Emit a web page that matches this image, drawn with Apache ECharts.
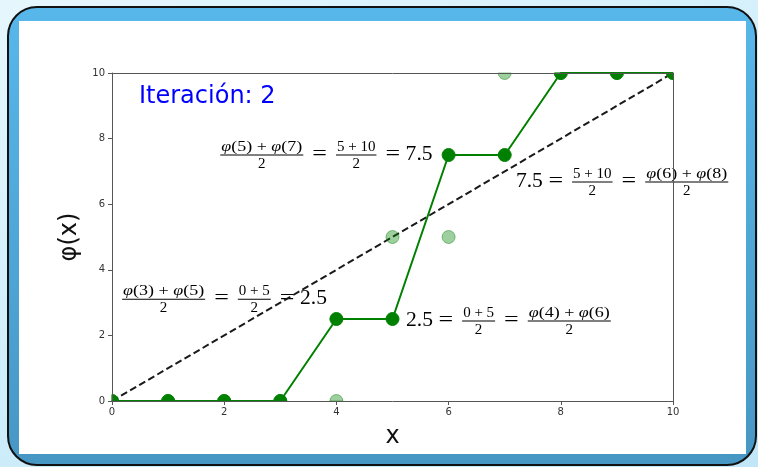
<!DOCTYPE html>
<html>
<head>
<meta charset="utf-8">
<script src="https://cdn.jsdelivr.net/npm/echarts@6/dist/echarts.min.js"></script>
<style>
  html, body { margin: 0; padding: 0; width: 758px; height: 467px; overflow: hidden;
    background: linear-gradient(160deg, #e6f7fd 0%, #d2effb 45%, #c0e6f7 100%); }
  #frame { position: absolute; left: 7px; top: 6px; width: 746px; height: 456px;
    border: 2px solid #111; border-radius: 30px;
    background: linear-gradient(#58b7ea, #4797c4); }
  #paper { position: absolute; left: 19px; top: 21px; width: 727px; height: 433px; background: #fff; }
  #chart { position: absolute; left: 0; top: 0; width: 758px; height: 467px; }
</style>
</head>
<body>
<div id="frame"></div>
<div id="paper"></div>
<div id="chart"></div>
<script>
// Grid nodes and the values of phi before and after this smoothing step
const xs = [0, 1, 2, 3, 4, 5, 6, 7, 8, 9, 10];
const phiPrev = [0, 0, 0, 0, 0, 5, 5, 10, 10, 10, 10];
const phiNext = [0, 0, 0, 0, 2.5, 2.5, 7.5, 7.5, 10, 10, 10];
// Reference line phi(x) = x
const diagonal = [[0, 0], [10, 10]];
const iteration = 2;
// Axis range shared by both axes
const AXIS_MIN = 0, AXIS_MAX = 10, AXIS_STEP = 2;
// Nodes whose update rule is written out on the plot
const leftFormNodes = [6, 4];
const rightFormNodes = [5, 7];

const GREEN = '#008000';
const SERIF = '"Liberation Serif", "Times New Roman", serif';
const MAIN_SIZE = 20, FRAC_SIZE = 15;
// horizontal stretch to give the serif glyphs a roomier, TeX-like set width
const MAIN_SX = 1.08, EQ_SX = 1.3, SYM_SX = 1.2;
const MARKER_R = 6.5;

// Markers are cut by the plot frame: a node lying on an edge only shows
// the part of its disc that is inside the axes.
function markerSeries(values, fill, stroke, z) {
  return {
    type: 'custom',
    z: z,
    data: xs.map((x, i) => [x, values[i]]),
    encode: { x: 0, y: 1 },
    renderItem: (params, api) => {
      const vx = api.value(0), vy = api.value(1);
      const p = api.coord([vx, vy]);
      let nx = 0, ny = 0, edges = 0;
      if (vy <= AXIS_MIN) { ny -= 1; edges++; }   // bottom edge: keep upper part
      if (vy >= AXIS_MAX) { ny += 1; edges++; }   // top edge: keep lower part
      if (vx <= AXIS_MIN) { nx += 1; edges++; }   // left edge: keep right part
      if (vx >= AXIS_MAX) { nx -= 1; edges++; }   // right edge: keep left part
      const style = { fill: fill, stroke: stroke, lineWidth: 1 };
      if (!edges) {
        return { type: 'circle', shape: { cx: p[0], cy: p[1], r: MARKER_R }, style: style };
      }
      const mid = Math.atan2(ny, nx);
      const half = edges === 1 ? Math.PI / 2 : Math.PI / 4;
      return { type: 'sector', style: style,
        shape: { cx: p[0], cy: p[1], r0: 0, r: MARKER_R,
                 startAngle: mid - half, endAngle: mid + half, clockwise: true } };
    }
  };
}

const frameAxis = { type: 'value', min: AXIS_MIN, max: AXIS_MAX, z: 6,
  axisLine: { show: true, onZero: false, lineStyle: { color: '#555', width: 1 } },
  axisTick: { show: false }, axisLabel: { show: false }, splitLine: { show: false } };

const option = {
  animation: false,
  backgroundColor: 'transparent',
  grid: { left: 112, right: 85, top: 73, bottom: 66 },
  title: { text: 'Iteración: ' + iteration, left: 139, top: 85, padding: 0,
    textStyle: { color: '#0000ff', fontSize: 24, fontWeight: 'normal', fontFamily: 'DejaVu Sans' } },
  xAxis: [{
    type: 'value', min: AXIS_MIN, max: AXIS_MAX, interval: AXIS_STEP, position: 'bottom', z: 6,
    axisLine: { show: true, onZero: false, lineStyle: { color: '#555', width: 1 } },
    axisTick: { show: true, length: 4, lineStyle: { color: '#555' } },
    axisLabel: { color: '#333', fontSize: 10, margin: 6, fontFamily: 'DejaVu Sans' },
    splitLine: { show: false },
    name: 'x', nameLocation: 'middle', nameGap: 24,
    nameTextStyle: { fontSize: 24, color: '#111', fontFamily: 'DejaVu Sans' }
  }, Object.assign({ position: 'top' }, frameAxis)],
  yAxis: [{
    type: 'value', min: AXIS_MIN, max: AXIS_MAX, interval: AXIS_STEP, position: 'left', z: 6,
    axisLine: { show: true, onZero: false, lineStyle: { color: '#555', width: 1 } },
    axisTick: { show: true, length: 4, lineStyle: { color: '#555' } },
    axisLabel: { color: '#333', fontSize: 10, margin: 7, fontFamily: 'DejaVu Sans' },
    splitLine: { show: false },
    name: 'φ(x)', nameLocation: 'middle', nameGap: 25, nameRotate: 90,
    nameTextStyle: { fontSize: 24, color: '#111', fontFamily: 'DejaVu Sans' }
  }, Object.assign({ position: 'right' }, frameAxis)],
  series: [
    { type: 'line', data: diagonal, symbol: 'none', z: 3,
      lineStyle: { color: '#1a1a1a', width: 2, type: [7, 3.5] } },
    { type: 'line', data: xs.map((x, i) => [x, phiNext[i]]), symbol: 'none', z: 3,
      lineStyle: { color: GREEN, width: 2 } },
    markerSeries(phiPrev, 'rgba(0,128,0,0.38)', 'rgba(0,128,0,0.45)', 4),
    markerSeries(phiNext, GREEN, GREEN, 5)
  ]
};

const chart = echarts.init(document.getElementById('chart'));
chart.setOption(option);

// ---- written-out update rules, typeset as inline fractions ----
const ctx = document.createElement('canvas').getContext('2d');
function fontOf(size, italic) { return (italic ? 'italic ' : '') + size + 'px ' + SERIF; }
function runsOf(str) {
  const runs = [];
  str.split(/(φ)/).forEach(s => { if (s) runs.push({ t: s, it: s === 'φ' }); });
  return runs;
}
function runWidth(runs, size, sx) {
  return runs.reduce((w, r) => { ctx.font = fontOf(size, r.it); return w + ctx.measureText(r.t).width * sx; }, 0);
}
function putRuns(runs, size, sx, x, y, out) {
  runs.forEach(r => {
    ctx.font = fontOf(size, r.it);
    out.push({ type: 'text', x: x, y: y, scaleX: sx, z: 1, silent: true,
      style: { text: r.t, font: fontOf(size, r.it), fill: '#000', align: 'left', verticalAlign: 'middle' } });
    x += ctx.measureText(r.t).width * sx;
  });
}
function typeset(parts, x, y, out) {
  const PAD = 1;
  parts.forEach((part, i) => {
    if (i > 0) {
      const nearFraction = typeof part !== 'string' || typeof parts[i - 1] !== 'string';
      x += nearFraction ? 9 : 5.5;
    }
    if (typeof part === 'string') {
      const runs = runsOf(part);
      const sx = part === '=' ? EQ_SX : MAIN_SX;
      putRuns(runs, MAIN_SIZE, sx, x, y - 0.5, out);
      x += runWidth(runs, MAIN_SIZE, sx);
    } else {
      const num = runsOf(part[0]), den = runsOf(part[1]);
      const nsx = part[0].indexOf('φ') >= 0 ? SYM_SX : 1;
      const nw = runWidth(num, FRAC_SIZE, nsx), dw = runWidth(den, FRAC_SIZE, 1);
      const w = Math.max(nw, dw) + 2 * PAD;
      out.push({ type: 'rect', z: 1, silent: true,
        shape: { x: x, y: y - 0.5, width: w, height: 1 }, style: { fill: '#000' } });
      putRuns(num, FRAC_SIZE, nsx, x + (w - nw) / 2, y - 8, out);
      putRuns(den, FRAC_SIZE, 1, x + (w - dw) / 2, y + 9, out);
      x += w;
    }
  });
}

function ruleParts(k, valueFirst) {
  const symbolic = ['φ(' + (k - 1) + ') + φ(' + (k + 1) + ')', '2'];
  const numeric = [phiPrev[k - 1] + ' + ' + phiPrev[k + 1], '2'];
  const value = String(phiNext[k]);
  return valueFirst ? [value, '=', numeric, '=', symbolic] : [symbolic, '=', numeric, '=', value];
}

// where each rule starts (data coordinates of its left edge, fraction-bar height)
const ruleAnchor = { 6: [1.93, 7.5], 4: [0.18, 3.1], 5: [5.24, 2.44], 7: [7.2, 6.68] };

const elements = [];
leftFormNodes.forEach(k => {
  const p = chart.convertToPixel({ xAxisIndex: 0, yAxisIndex: 0 }, ruleAnchor[k]);
  typeset(ruleParts(k, false), p[0], p[1], elements);
});
rightFormNodes.forEach(k => {
  const p = chart.convertToPixel({ xAxisIndex: 0, yAxisIndex: 0 }, ruleAnchor[k]);
  typeset(ruleParts(k, true), p[0], p[1], elements);
});
chart.setOption({ graphic: { elements: elements } });
</script>
</body>
</html>
